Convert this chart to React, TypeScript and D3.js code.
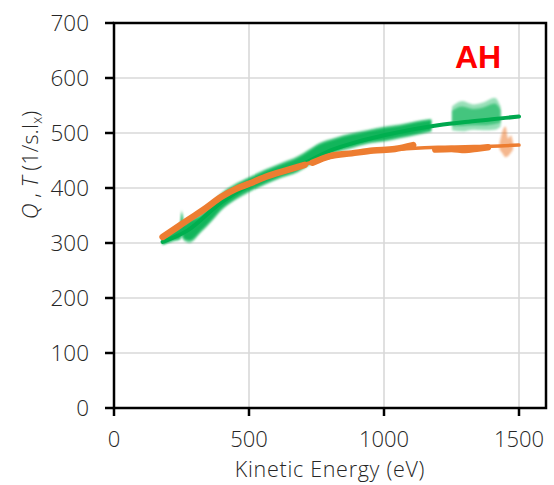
import React from "react";
import * as d3 from "d3";

// ---- data ----
const xTicks = [0, 500, 1000, 1500];
const yTicks = [0, 100, 200, 300, 400, 500, 600, 700];

// fitted curves
const greenFitE = [180, 270, 400, 500, 600, 700, 800, 900, 1000, 1100, 1200, 1300, 1400, 1500];
const greenFitQ = [302, 322, 375, 405, 427, 444, 468, 484, 496, 506, 514, 520, 525, 530];
const orangeFitE = [180, 300, 400, 500, 600, 700, 800, 900, 1000, 1100, 1200, 1300, 1400, 1500];
const orangeFitQ = [311, 350, 384, 408, 426, 442, 456, 464, 469, 472, 474, 475, 476, 478];

// green measured scatter (extent of the cloud)
const greenBandE = [180, 220, 245, 251, 258, 280, 320, 360, 400, 450, 500, 560, 620, 680, 720, 760, 820, 880, 940, 1000, 1060, 1120, 1175];
const greenBandLo = [296, 303, 306, 312, 305, 300, 318, 338, 360, 378, 392, 406, 418, 428, 440, 452, 464, 472, 480, 484, 490, 496, 502];
const greenBandHi = [308, 322, 332, 360, 336, 344, 352, 372, 392, 408, 420, 434, 446, 458, 470, 482, 492, 500, 506, 512, 516, 522, 526];
const greenBand2E = [1252, 1290, 1330, 1370, 1410, 1432];
const greenBand2Lo = [505, 503, 506, 505, 506, 512];
const greenBand2Hi = [548, 558, 552, 556, 564, 548];

// orange measured series (null = no data)
const orangeE = [180, 220, 274, 330, 398, 450, 502, 560, 644, 706, 718, 735, 800, 880, 960, 1040, 1108, 1150, 1190, 1250, 1300, 1350, 1385];
const orangeQ: (number | null)[] = [311, 324, 342, 360, 384, 398, 408, 420, 433, 442, null, 446, 458, 463, 468, 471, 478, null, 470, 471, 469, 472, 474];
const orangeSpikeE = [1428, 1440, 1450, 1460, 1470, 1478];
const orangeSpikeLo = [470, 462, 456, 458, 464, 470];
const orangeSpikeHi = [482, 505, 512, 490, 496, 482];

const W = 554;
const H = 485;
const GREEN = "#00b050";
const ORANGE = "#ed7d31";
const TXT = "#262626";
const FONT = "'Open Sans', 'DejaVu Sans', sans-serif";

export default function App() {
  const x = d3.scaleLinear().domain([0, 1600]).range([114, 546]);
  const y = d3.scaleLinear().domain([0, 700]).range([408, 23]);

  const line = d3
    .line<[number, number]>()
    .x((d) => x(d[0]))
    .y((d) => y(d[1]))
    .curve(d3.curveMonotoneX);

  const area = d3
    .area<[number, number, number]>()
    .x((d) => x(d[0]))
    .y0((d) => y(d[1]))
    .y1((d) => y(d[2]))
    .curve(d3.curveMonotoneX);

  const zip3 = (e: number[], lo: number[], hi: number[]) =>
    e.map((v, i) => [v, lo[i], hi[i]] as [number, number, number]);
  const inner = (e: number[], lo: number[], hi: number[], k: number) =>
    e.map((v, i) => {
      const m = (lo[i] + hi[i]) / 2;
      const r = (hi[i] - lo[i]) * k;
      return [v, m - r, m + r] as [number, number, number];
    });

  const greenFit = greenFitE.map((e, i) => [e, greenFitQ[i]] as [number, number]);
  const orangeFit = orangeFitE.map((e, i) => [e, orangeFitQ[i]] as [number, number]);

  const orangeLine = d3
    .line<[number, number | null]>()
    .defined((d) => d[1] !== null)
    .x((d) => x(d[0]))
    .y((d) => y(d[1] as number))
    .curve(d3.curveMonotoneX);
  const orangeData = orangeE.map((e, i) => [e, orangeQ[i]] as [number, number | null]);

  const x0 = x(0), x1 = x(1600), y0 = y(0), y1 = y(700);

  return (
    <svg width={W} height={H} style={{ position: "absolute", left: 0, top: 0 }} fontFamily={FONT}>
      <defs>
        <filter id="fuzz" x="-10%" y="-20%" width="120%" height="140%">
          <feGaussianBlur stdDeviation="1.2" />
        </filter>
        <clipPath id="plot">
          <rect x={x0} y={y1} width={x1 - x0} height={y0 - y1} />
        </clipPath>
      </defs>
      <rect width={W} height={H} fill="#fff" />

      {/* grid */}
      {yTicks.slice(1, -1).map((t) => (
        <line key={"gy" + t} x1={x0} x2={x1} y1={y(t)} y2={y(t)} stroke="#d9d9d9" strokeWidth={1.6} />
      ))}
      {xTicks.slice(1).map((t) => (
        <line key={"gx" + t} x1={x(t)} x2={x(t)} y1={y1} y2={y0} stroke="#d9d9d9" strokeWidth={1.6} />
      ))}

      <g clipPath="url(#plot)">
        {/* green fit */}
        <path d={line(greenFit) || ""} fill="none" stroke="#00a84f" strokeWidth={4} strokeLinecap="round" />
        {/* green scatter */}
        <path d={area(zip3(greenBandE, greenBandLo, greenBandHi)) || ""} fill={GREEN} opacity={0.5} filter="url(#fuzz)" />
        <path d={area(inner(greenBandE, greenBandLo, greenBandHi, 0.4)) || ""} fill={GREEN} opacity={0.85} filter="url(#fuzz)" />
        <path d={area(zip3(greenBand2E, greenBand2Lo, greenBand2Hi)) || ""} fill={GREEN} opacity={0.4} filter="url(#fuzz)" />
        <path d={area(inner(greenBand2E, greenBand2Lo, greenBand2Hi, 0.32)) || ""} fill={GREEN} opacity={0.55} filter="url(#fuzz)" />
        {/* orange fit */}
        <path d={line(orangeFit) || ""} fill="none" stroke={ORANGE} strokeWidth={3.5} strokeLinecap="round" />
        {/* orange data */}
        <path d={orangeLine(orangeData) || ""} fill="none" stroke={ORANGE} strokeWidth={6.5} strokeLinecap="round" strokeLinejoin="round" />
        <path d={area(zip3(orangeSpikeE, orangeSpikeLo, orangeSpikeHi)) || ""} fill={ORANGE} opacity={0.55} filter="url(#fuzz)" />
      </g>

      {/* frame */}
      <rect x={x0} y={y1} width={x1 - x0} height={y0 - y1} fill="none" stroke="#000" strokeWidth={2.5} />
      {yTicks.map((t) => (
        <line key={"ty" + t} x1={x0 - 9} x2={x0} y1={y(t)} y2={y(t)} stroke="#000" strokeWidth={2.5} />
      ))}
      {xTicks.map((t) => (
        <line key={"tx" + t} x1={x(t)} x2={x(t)} y1={y0} y2={y0 + 8} stroke="#000" strokeWidth={2.5} />
      ))}

      {/* tick labels */}
      {yTicks.map((t) => (
        <text key={"ly" + t} x={89} y={y(t)} dy="0.36em" textAnchor="end" fontSize={22.5} fontWeight={300} fill={TXT}>
          {t}
        </text>
      ))}
      {xTicks.map((t) => (
        <text key={"lx" + t} x={x(t)} y={447} textAnchor="middle" fontSize={22} fontWeight={300} fill={TXT}>
          {t}
        </text>
      ))}

      {/* axis titles */}
      <text x={(x0 + x1) / 2} y={477} textAnchor="middle" fontSize={21.5} letterSpacing={0.7} fontWeight={300} fill={TXT}>
        Kinetic Energy (eV)
      </text>
      <text transform="translate(38,165) rotate(-90)" textAnchor="middle" fontSize={22} fontWeight={300} fill={TXT}>
        <tspan fontStyle="italic">Q</tspan>
        <tspan> , </tspan>
        <tspan fontStyle="italic">T</tspan>
        <tspan> (1/s.I</tspan>
        <tspan fontSize={14} dy={4}>x</tspan>
        <tspan dy={-4}>)</tspan>
      </text>

      {/* panel label */}
      <text x={478} y={68} textAnchor="middle" fontSize={32} fontWeight="bold" fill="#ff0000" fontFamily="'Liberation Sans', Arial, sans-serif">
        AH
      </text>
    </svg>
  );
}
